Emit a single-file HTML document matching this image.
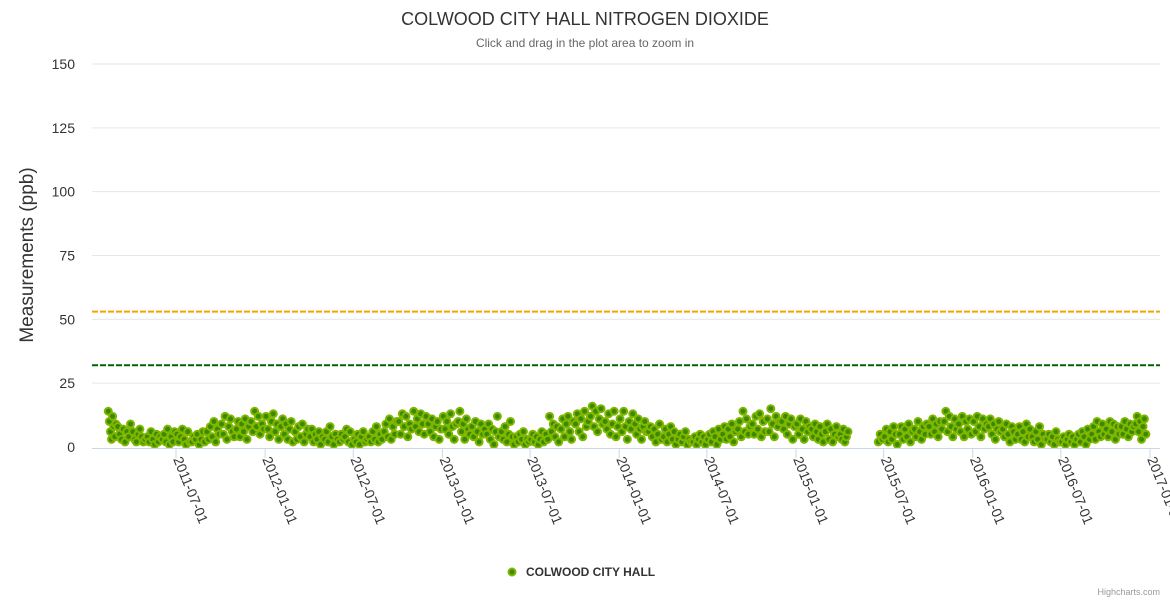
<!DOCTYPE html>
<html><head><meta charset="utf-8"><style>
body{margin:0;background:#fff;font-family:"Liberation Sans",sans-serif;}
svg text{font-family:"Liberation Sans",sans-serif;}
</style></head><body>
<svg id="chart" width="1170" height="600" xmlns="http://www.w3.org/2000/svg">
<text x="585" y="25" text-anchor="middle" font-size="18" fill="#333">COLWOOD CITY HALL NITROGEN DIOXIDE</text>
<text x="585" y="47" text-anchor="middle" font-size="12" fill="#666">Click and drag in the plot area to zoom in</text>
<text transform="translate(33,255) rotate(-90)" text-anchor="middle" font-size="19" fill="#333">Measurements (ppb)</text>
<g id="grid"></g>
<g id="plotlines"></g>
<g id="points"></g>
<g id="xaxis"></g>
<g>
<circle cx="512" cy="572" r="3.5" fill="#3a8a00" stroke="#80b500" stroke-width="2"/>
<text x="526" y="576" font-size="12" font-weight="bold" fill="#333">COLWOOD CITY HALL</text>
</g>
<text x="1160" y="595" text-anchor="end" font-size="9" fill="#999">Highcharts.com</text>
</svg>
<script>
const yTicks=[0,25,50,75,100,125,150];
const xTickLabels=["2011-07-01","2012-01-01","2012-07-01","2013-01-01","2013-07-01","2014-01-01","2014-07-01","2015-01-01","2015-07-01","2016-01-01","2016-07-01","2017-01-01"];
const plotLineValues=[53,32];
const plotLineColors=["#f5a300","#006400"];
const months=["2011-02","2011-03","2011-04","2011-05","2011-06","2011-07","2011-08","2011-09","2011-10","2011-11","2011-12",
"2012-01","2012-02","2012-03","2012-04","2012-05","2012-06","2012-07","2012-08","2012-09","2012-10","2012-11","2012-12",
"2013-01","2013-02","2013-03","2013-04","2013-05","2013-06","2013-07","2013-08","2013-09","2013-10","2013-11","2013-12",
"2014-01","2014-02","2014-03","2014-04","2014-05","2014-06","2014-07","2014-08","2014-09","2014-10","2014-11","2014-12",
"2015-01","2015-02","2015-03","2015-04","2015-06","2015-07","2015-08","2015-09","2015-10","2015-11","2015-12",
"2016-01","2016-02","2016-03","2016-04","2016-05","2016-06","2016-07","2016-08","2016-09","2016-10","2016-11","2016-12"];
const monthStartDay=[10,1,1,1,1,1,1,1,1,1,1, 1,1,1,1,1,1,1,1,1,1,1,1, 1,1,1,1,1,1,1,1,1,1,1,1, 1,1,1,1,1,1,1,1,1,1,1,1, 1,1,1,1,18,1,1,1,1,1,1, 1,1,1,1,1,1,1,1,1,1,1,1];
const monthEndDay=[28,31,30,31,30,31,31,30,31,30,31, 31,29,31,30,31,30,31,31,30,31,30,31, 31,28,31,30,31,30,31,31,30,31,30,31, 31,28,31,30,31,30,31,31,30,31,30,31, 31,28,31,20,30,31,31,30,31,30,31, 31,29,31,30,31,30,31,31,30,31,30,25];
const values=[
[14,10,6,3,12,8,4,9],[8,5,3,7,2,6,4,9],[6,3,2,5,7,4,2,3],[4,2,6,3,1,5,2,4],[3,5,2,7,1,4,2,6],[5,2,4,7,3,1,6,2],[2,4,3,5,1,3,6,2],[6,3,8,4,10,2,7,5],[9,5,12,3,8,11,6,4],[7,10,4,9,6,11,3,8],[10,6,14,8,12,5,9,7],
[12,7,4,10,13,6,9,3],[8,11,5,9,3,7,10,2],[6,3,8,4,9,2,5,7],[4,7,2,5,3,6,1,4],[3,6,2,8,4,1,5,3],[2,5,3,4,7,2,6,1],[3,2,5,1,4,6,2,3],[4,2,6,3,8,2,5,3],[6,9,4,11,3,8,5,10],[10,5,13,8,12,4,9,7],[14,8,11,6,13,9,5,12],[9,6,11,4,8,10,3,7],
[12,7,10,5,13,8,3,9],[10,14,6,9,3,11,7,5],[8,4,10,6,2,9,5,7],[5,9,3,7,1,6,12,4],[6,3,8,2,5,10,4,1],[4,2,5,3,6,1,3,2],[3,5,2,4,1,3,6,2],[5,3,12,6,9,4,8,2],[7,11,4,9,12,6,3,10],[9,13,6,11,4,14,8,10],[12,16,8,14,6,11,15,9],[10,7,13,5,9,14,4,8],
[11,6,14,8,3,10,7,13],[9,5,11,7,3,8,10,6],[6,8,4,7,2,5,9,3],[4,7,2,5,8,3,6,1],[3,5,2,4,6,1,3,2],[2,4,1,3,5,2,4,1],[3,5,2,6,4,1,7,3],[5,8,3,7,4,9,2,6],[7,10,4,14,6,11,5,8],[9,5,12,7,13,4,10,6],[11,6,15,9,4,12,8,10],[10,7,12,5,9,11,3,8],
[9,5,11,7,3,10,6,8],[7,4,9,6,3,8,5,2],[6,9,3,7,2,5,8,4],[5,3,7,2,4,6],[2,5,3],[4,7,2,6,3,8,5,1],[5,8,3,7,4,9,2,6],[7,4,10,6,3,8,5,9],[8,5,11,6,9,4,10,7],[10,14,6,12,8,4,11,7],[9,6,12,4,10,7,11,5],
[10,6,12,8,4,11,7,9],[8,11,5,9,3,7,10,6],[7,4,9,5,2,8,6,3],[5,8,3,6,2,9,4,7],[4,2,6,3,8,1,5,3],[3,5,2,4,1,6,3,2],[2,4,1,3,5,2,4,1],[3,5,2,6,4,1,7,3],[5,8,3,10,6,4,9,5],[7,4,10,6,9,3,8,5],[8,5,10,7,4,9,6,8],[9,12,6,10,3,8,11,5]];

const NS="http://www.w3.org/2000/svg";
const X0=92,X1=1160,Y0=447,Y1=64;
const t0=Date.UTC(2011,6,1),t1=Date.UTC(2017,0,1);
function xScale(t){return 176+(t-t0)/(t1-t0)*(1150-176);}
function yScale(v){return Y0-(v/150)*(Y0-Y1);}
function mk(tag,attrs,parent){const e=document.createElementNS(NS,tag);for(const k in attrs)e.setAttribute(k,attrs[k]);parent.appendChild(e);return e;}
const grid=document.getElementById('grid');
yTicks.forEach(v=>{
  const y=yScale(v);
  if(v>0){const l=mk('line',{x1:X0,x2:X1,y1:y,y2:y,stroke:'#e6e6e6','stroke-width':1},grid);
  
  }
  const t=mk('text',{x:75,y:y+5,'text-anchor':'end','font-size':14,fill:'#333'},grid);
  
  
  t.textContent=v;
});
const pl=document.getElementById('plotlines');
plotLineValues.forEach((v,i)=>{
  const y=yScale(v);
  const l=mk('line',{x1:X0,x2:X1,y1:y,y2:y,stroke:plotLineColors[i],'stroke-width':2,'stroke-dasharray':'6,2'},pl);
  
  
});
const pts=document.getElementById('points');
months.forEach((m,i)=>{
  const [yy,mm]=m.split('-').map(Number);
  const vals=values[i];const s=monthStartDay[i],e=monthEndDay[i];
  vals.forEach((v,j)=>{
    const day=s+(e-s)*(j+0.5)/vals.length;
    const t=Date.UTC(yy,mm-1,1)+(day-1)*86400000;
    const c=mk('circle',{cx:xScale(t),cy:yScale(v),r:3.5,fill:'#3a8a00',stroke:'#80b500','stroke-width':2},pts);
    
    
  });
});
const xa=document.getElementById('xaxis');
const axl=mk('line',{x1:X0,x2:X1,y1:Y0+1.5,y2:Y0+1.5,stroke:'#ccd6eb','stroke-width':1},xa);


xTickLabels.forEach(lbl=>{
  const [yy,mm,dd]=lbl.split('-').map(Number);
  const x=xScale(Date.UTC(yy,mm-1,dd));
  const tk=mk('line',{x1:x,x2:x,y1:Y0+1.5,y2:Y0+11,stroke:'#ccd6eb','stroke-width':1},xa);
  
  
  const t=mk('text',{transform:`translate(${x-3},${Y0+12}) rotate(68)`,'font-size':14,fill:'#333'},xa);
  
  
  t.textContent=lbl;
});
</script>
</body></html>
